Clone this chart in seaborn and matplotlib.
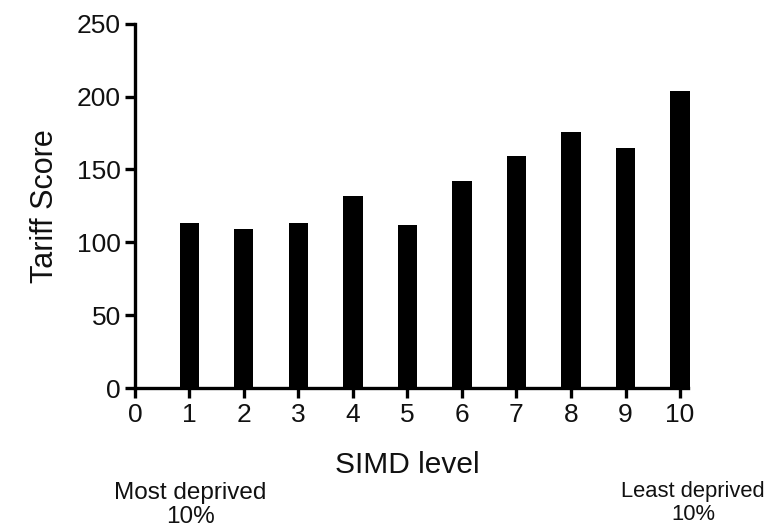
import matplotlib
matplotlib.use("Agg")
import matplotlib.pyplot as plt
import seaborn as sns
import pandas as pd

# ── Data ─────────────────────────────────────────────────────────────────────
simd_levels   = [1, 2, 3, 4, 5, 6, 7, 8, 9, 10]
tariff_scores = [113, 109, 113, 132, 112, 142, 159, 176, 165, 204]
x_ticks       = [0, 1, 2, 3, 4, 5, 6, 7, 8, 9, 10]
y_ticks       = [0, 50, 100, 150, 200, 250]

df = pd.DataFrame({"simd": simd_levels, "score": tariff_scores})

# ── Style ────────────────────────────────────────────────────────────────────
sns.set_theme(style="ticks")
plt.rcParams["font.family"] = ["Liberation Sans", "DejaVu Sans"]

fig = plt.figure(figsize=(7.71, 5.28), dpi=100)
ax = fig.add_axes([0.175, 0.265, 0.707, 0.69])

sns.barplot(data=df, x="simd", y="score", native_scale=True, width=0.35,
            color="black", edgecolor="black", linewidth=0, saturation=1,
            errorbar=None, ax=ax)
# last bar sits on the axis end, keep it whole
for patch in ax.patches:
    patch.set_clip_on(False)

ax.set_xlim(0, 10)
ax.set_ylim(0, 250)
ax.set_xticks(x_ticks)
ax.set_yticks(y_ticks)
ax.set_xticklabels([str(t) for t in x_ticks])

sns.despine(ax=ax)
for side in ("left", "bottom"):
    ax.spines[side].set_linewidth(2.4)
    ax.spines[side].set_color("black")
# baseline runs under the full width of the last bar
ax.spines["bottom"].set_bounds(0, 10.15)
ax.tick_params(axis="both", direction="out", length=7, width=2.4,
               color="black", labelsize=19, labelcolor="#111111", pad=3)
ax.tick_params(axis="x", pad=4)

ax.set_xlabel("SIMD level", fontsize=21.5, labelpad=17, color="#111111")
ax.set_ylabel("Tariff Score", fontsize=22, labelpad=12, color="#111111")

fig.text(190 / 771, 1 - 505 / 528, "Most deprived\n10%", ha="center",
         va="center", fontsize=17.5, linespacing=1.1, color="#111111")
fig.text(693 / 771, 1 - 503 / 528, "Least deprived\n10%", ha="center",
         va="center", fontsize=15.8, linespacing=1.15, color="#111111")

fig.savefig("out.png", dpi=100)
